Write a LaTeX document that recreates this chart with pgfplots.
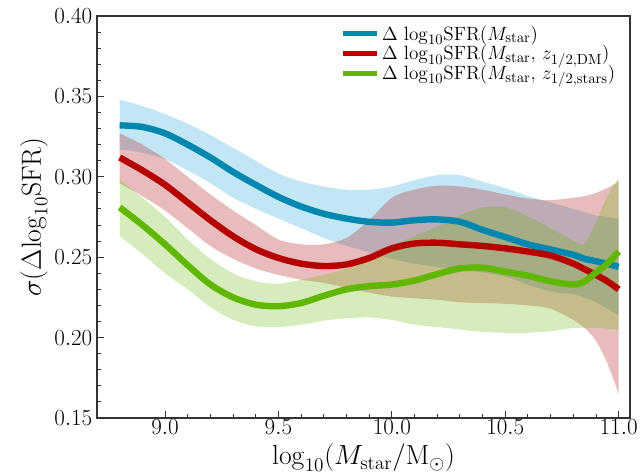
\documentclass[border=0pt]{standalone}
\usepackage{pgfplots}
\pgfplotsset{compat=1.18}
\usepackage{pgfplotstable}
\usepgfplotslibrary{fillbetween}

\definecolor{bline}{RGB}{0,135,175}
\definecolor{rline}{RGB}{182,0,0}
\definecolor{gline}{RGB}{97,183,0}
\definecolor{bband}{RGB}{135,206,235}
\definecolor{rband}{RGB}{178,34,34}
\definecolor{gband}{RGB}{97,183,0}

\pgfplotstableread{
x     bm     bl     bu     rm     rl     ru     gm     gl     gu
8.8   0.332  0.317  0.348  0.312  0.296  0.327  0.281  0.263  0.298
8.9   0.331  0.315  0.344  0.304  0.288  0.320  0.270  0.252  0.287
9.0   0.327  0.311  0.339  0.295  0.279  0.311  0.258  0.240  0.275
9.1   0.320  0.304  0.333  0.284  0.268  0.300  0.245  0.230  0.261
9.2   0.312  0.296  0.326  0.273  0.257  0.289  0.233  0.219  0.249
9.3   0.303  0.287  0.318  0.263  0.249  0.279  0.225  0.211  0.240
9.4   0.295  0.280  0.310  0.255  0.243  0.270  0.2205 0.207  0.235
9.5   0.2875 0.274  0.302  0.2495 0.239  0.261  0.2195 0.2065 0.2335
9.6   0.2815 0.268  0.297  0.246  0.236  0.258  0.2215 0.208  0.236
9.7   0.277  0.262  0.294  0.2445 0.234  0.258  0.226  0.2105 0.239
9.8   0.274  0.257  0.292  0.2455 0.231  0.262  0.230  0.212  0.243
9.9   0.272  0.253  0.292  0.2495 0.228  0.273  0.232  0.2125 0.249
10.0  0.2715 0.249  0.294  0.2555 0.2255 0.287  0.233  0.211  0.257
10.1  0.273  0.246  0.298  0.2585 0.2245 0.292  0.2355 0.208  0.263
10.2  0.2735 0.244  0.301  0.259  0.2235 0.2945 0.2395 0.2065 0.269
10.3  0.272  0.242  0.301  0.258  0.222  0.294  0.243  0.205  0.276
10.4  0.267  0.2405 0.297  0.257  0.2215 0.292  0.2435 0.2035 0.281
10.5  0.2625 0.238  0.293  0.2555 0.221  0.289  0.241  0.203  0.281
10.6  0.258  0.233  0.288  0.2535 0.220  0.2865 0.2385 0.203  0.2755
10.7  0.2548 0.2285 0.284  0.251  0.218  0.2855 0.235  0.204  0.268
10.8  0.2515 0.227  0.280  0.246  0.211  0.287  0.233  0.206  0.2605
10.85 0.249  0.2245 0.278  0.2425 0.206  0.288  0.235  0.206  0.2585
10.9  0.2475 0.222  0.276  0.239  0.198  0.290  0.2405 0.206  0.272
10.95 0.2458 0.218  0.275  0.235  0.184  0.293  0.246  0.2055 0.288
11.0  0.244  0.214  0.274  0.230  0.165  0.297  0.2535 0.205  0.2995
}\data

\begin{document}
\begin{tikzpicture}
\begin{axis}[name=ax, scale only axis, width=399.75pt, height=301.5pt,
  xmin=8.7, xmax=11.05, ymin=0.15, ymax=0.40,
  xtick={9,9.5,10,10.5,11}, minor x tick num=4,
  ytick={0.15,0.2,0.25,0.3,0.35,0.4}, minor y tick num=4,
  tick align=inside, xtick pos=left, ytick pos=left,
  major tick length=5.6pt, minor tick length=3pt,
  axis line style={black!80, line width=0.8pt},
  every tick/.style={black!80, line width=0.7pt},
  x tick label style={yshift=2pt, /pgf/number format/.cd, fixed, fixed zerofill, precision=1},
  y tick label style={/pgf/number format/.cd, fixed, fixed zerofill, precision=2},
  tick label style={font=\fontsize{16.5}{19}\selectfont},
  label style={font=\fontsize{21.5}{25}\selectfont},
  xlabel={$\mathrm{log}_{10}(M_{\rm star}/{\rm M}_{\odot})$},
  ylabel={$\sigma(\Delta\mathrm{log}_{10}{\rm SFR})$},
  xlabel style={at={(axis description cs:0.5,0)}, anchor=north, yshift=-19.5pt, inner sep=0pt},
  ylabel style={yshift=-2pt},
  legend style={draw=none, fill=none, at={(0.985,0.99)}, anchor=north east,
    font=\fontsize{15}{17}\selectfont, row sep=-1.5pt},
  legend cell align=left,
  legend image code/.code={\draw[#1, line width=4pt] (0pt,0pt) -- (25pt,0pt);},
]
\addplot[name path=bu, draw=none, forget plot, smooth] table[x=x,y=bu]{\data};
\addplot[name path=bl, draw=none, forget plot, smooth] table[x=x,y=bl]{\data};
\addplot[fill=bband, fill opacity=0.5, draw=none, forget plot] fill between[of=bu and bl];
\addplot[name path=ru, draw=none, forget plot, smooth] table[x=x,y=ru]{\data};
\addplot[name path=rl, draw=none, forget plot, smooth] table[x=x,y=rl]{\data};
\addplot[fill=rband, fill opacity=0.3, draw=none, forget plot] fill between[of=ru and rl];
\addplot[name path=gu, draw=none, forget plot, smooth] table[x=x,y=gu]{\data};
\addplot[name path=gl, draw=none, forget plot, smooth] table[x=x,y=gl]{\data};
\addplot[fill=gband, fill opacity=0.26, draw=none, forget plot] fill between[of=gu and gl];

\addplot[bline, line width=4.8pt, smooth] table[x=x,y=bm]{\data};
\addlegendentry{$\Delta\ \mathrm{log}_{10}{\rm SFR}(M_{\rm star})$}
\addplot[rline, line width=4.8pt, smooth] table[x=x,y=rm]{\data};
\addlegendentry{$\Delta\ \mathrm{log}_{10}{\rm SFR}(M_{\rm star},\, z_{1/2,{\rm DM}})$}
\addplot[gline, line width=4.8pt, smooth] table[x=x,y=gm]{\data};
\addlegendentry{$\Delta\ \mathrm{log}_{10}{\rm SFR}(M_{\rm star},\, z_{1/2,{\rm stars}})$}
\end{axis}
\pgfresetboundingbox
\path ([xshift=-72.75pt, yshift=-43.5pt]ax.south west) rectangle ([xshift=9pt, yshift=12pt]ax.north east);
\end{tikzpicture}
\end{document}
